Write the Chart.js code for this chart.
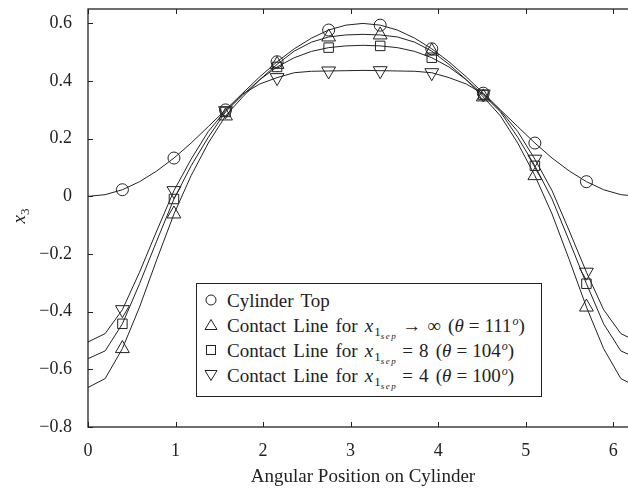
<!DOCTYPE html>
<html>
<head>
<meta charset="utf-8">
<script src="https://cdn.jsdelivr.net/npm/chart.js@4.4.0/dist/chart.umd.min.js"></script>
<style>
  html, body { margin: 0; padding: 0; background: #fff; overflow: hidden; }
  #wrap { position: relative; width: 628px; height: 491px; overflow: hidden; }
  #box { position: absolute; left: 0; top: 0; width: 650px; height: 491px; }
  .serif { font-family: 'Liberation Serif', 'DejaVu Serif', serif; color: #222; }
  #ytitle { position: absolute; left: 6px; top: 205px; font-size: 19px; transform: rotate(-90deg); transform-origin: center; width: 26px; text-align: center; }
  #ytitle sub { font-size: 13px; font-style: normal; vertical-align: 0; position: relative; top: 4px; }
  .legend { position: absolute; left: 196px; top: 283px; width: 346px; height: 114px; border: 1px solid #222; background: #fff; box-sizing: border-box; font-size: 19px; padding-top: 4px; }
  .row { position: relative; height: 25px; line-height: 25px; white-space: nowrap; word-spacing: 2.5px; }
  .row svg { position: absolute; left: 6px; top: 4px; }
  .row .txt { position: absolute; left: 30px; top: 0; }
  .s1 { font-size: 13px; position: relative; top: 4px; margin-left: 1px; }
  .s2 { font-size: 9px; font-style: italic; position: relative; top: 3px; letter-spacing: 1.5px; }
  .op { margin: 0 6px 0 5px; }
  .eq { margin: 0 5px; }
  .sup { font-size: 12px; font-style: italic; position: relative; top: -7px; margin-left: 1px; }
</style>
</head>
<body>
<div id="wrap">
  <div id="box"><canvas id="chart"></canvas></div>
  <div id="ytitle" class="serif"><i>x</i><sub>3</sub></div>
  <div class="legend serif">
    <div class="row">
      <svg width="16" height="16"><circle cx="8" cy="8" r="5" fill="none" stroke="#222" stroke-width="1"/></svg>
      <span class="txt">Cylinder Top</span>
    </div>
    <div class="row">
      <svg width="16" height="16"><polygon points="8,2.5 14,12.5 2,12.5" fill="none" stroke="#222" stroke-width="1"/></svg>
      <span class="txt">Contact Line for <i>x</i><span class="s1">1<span class="s2">sep</span></span><span class="op">→</span>∞ (<i>θ</i><span class="eq">=</span>111<span class="sup">o</span>)</span>
    </div>
    <div class="row">
      <svg width="16" height="16"><rect x="3.5" y="3.5" width="9" height="9" fill="none" stroke="#222" stroke-width="1"/></svg>
      <span class="txt">Contact Line for <i>x</i><span class="s1">1<span class="s2">sep</span></span><span class="op">=</span>8 (<i>θ</i><span class="eq">=</span>104<span class="sup">o</span>)</span>
    </div>
    <div class="row">
      <svg width="16" height="16"><polygon points="2,3.5 14,3.5 8,13.5" fill="none" stroke="#222" stroke-width="1"/></svg>
      <span class="txt">Contact Line for <i>x</i><span class="s1">1<span class="s2">sep</span></span><span class="op">=</span>4 (<i>θ</i><span class="eq">=</span>100<span class="sup">o</span>)</span>
    </div>
  </div>
</div>
<script>
// angular positions (rad), one every pi/16
const angle = [0, 0.196, 0.393, 0.589, 0.785, 0.982, 1.178, 1.374, 1.571, 1.767, 1.963, 2.160, 2.356, 2.553, 2.749, 2.945,
  3.142, 3.338, 3.534, 3.731, 3.927, 4.123, 4.320, 4.516, 4.712, 4.909, 5.105, 5.301, 5.498, 5.694, 5.890, 6.087, 6.283];

const cylinderTop = [0, 0.006, 0.023, 0.051, 0.088, 0.133, 0.185, 0.242, 0.300, 0.358, 0.415, 0.467, 0.512, 0.549, 0.577, 0.594,
  0.600, 0.594, 0.577, 0.549, 0.512, 0.467, 0.415, 0.358, 0.300, 0.242, 0.185, 0.133, 0.088, 0.051, 0.023, 0.006, 0];

const contactInf = [-0.663, -0.632, -0.528, -0.384, -0.220, -0.061, 0.072, 0.185, 0.279, 0.345, 0.405, 0.458, 0.504, 0.535, 0.553, 0.560,
  0.562, 0.560, 0.553, 0.535, 0.504, 0.458, 0.405, 0.345, 0.279, 0.185, 0.072, -0.061, -0.220, -0.384, -0.528, -0.632, -0.663];

const contact8 = [-0.563, -0.536, -0.442, -0.303, -0.155, -0.009, 0.106, 0.205, 0.293, 0.352, 0.405, 0.449, 0.481, 0.503, 0.516, 0.522,
  0.524, 0.522, 0.516, 0.503, 0.481, 0.449, 0.405, 0.352, 0.293, 0.205, 0.106, -0.009, -0.155, -0.303, -0.442, -0.536, -0.563];

const contact4 = [-0.505, -0.476, -0.393, -0.263, -0.120, 0.020, 0.129, 0.225, 0.297, 0.355, 0.390, 0.412, 0.429, 0.434, 0.435, 0.436,
  0.437, 0.436, 0.435, 0.434, 0.429, 0.412, 0.390, 0.355, 0.297, 0.225, 0.129, 0.020, -0.120, -0.263, -0.393, -0.476, -0.505];

const xTicks = [0, 1, 2, 3, 4, 5, 6];
const yTicks = [-0.8, -0.6, -0.4, -0.2, 0, 0.2, 0.4, 0.6];

const ink = '#222';
const tickFont = { family: "'Liberation Serif', 'DejaVu Serif', serif", size: 18 };
const titleFont = { family: "'Liberation Serif', 'DejaVu Serif', serif", size: 19 };

function toPoints(ys) {
  return angle.map((a, i) => ({ x: a, y: ys[i] }));
}

// markers only on every third grid point
function markerSize(r) {
  return ctx => (ctx.dataIndex % 3 === 2 ? r : 0);
}

function series(ys, style, r, rot) {
  return {
    data: toPoints(ys),
    borderColor: ink,
    borderWidth: 1,
    tension: 0,
    pointStyle: style,
    pointRadius: markerSize(r),
    pointRotation: rot || 0,
    pointBorderColor: ink,
    pointBorderWidth: 1,
    pointBackgroundColor: 'rgba(0,0,0,0)',
    pointHoverRadius: 0
  };
}

// frame plus inward tick marks
const framePlugin = {
  id: 'frame',
  afterDraw(chart) {
    const { ctx, chartArea: a, scales } = chart;
    ctx.save();
    ctx.strokeStyle = ink;
    ctx.lineWidth = 1.3;
    ctx.strokeRect(a.left, a.top, a.right - a.left, a.bottom - a.top);
    ctx.lineWidth = 1;
    ctx.beginPath();
    xTicks.forEach(v => {
      const px = Math.round(scales.x.getPixelForValue(v)) + 0.5;
      ctx.moveTo(px, a.bottom); ctx.lineTo(px, a.bottom - 5);
      ctx.moveTo(px, a.top); ctx.lineTo(px, a.top + 5);
    });
    yTicks.forEach(v => {
      const py = Math.round(scales.y.getPixelForValue(v)) + 0.5;
      ctx.moveTo(a.left, py); ctx.lineTo(a.left + 5, py);
      ctx.moveTo(a.right, py); ctx.lineTo(a.right - 5, py);
    });
    ctx.stroke();
    ctx.restore();
  }
};

function fmt(v) {
  if (Math.abs(v) < 1e-9) return '0';
  return (v < 0 ? '\u2212' : '') + Math.abs(v).toFixed(1);
}

new Chart(document.getElementById('chart'), {
  type: 'line',
  data: {
    datasets: [
      series(cylinderTop, 'circle', 6),
      series(contactInf, 'triangle', 8),
      series(contact8, 'rect', 6.7),
      series(contact4, 'triangle', 8, 180)
    ]
  },
  options: {
    responsive: true,
    maintainAspectRatio: false,
    animation: false,
    layout: { padding: { left: 0, right: 12, top: 7, bottom: 0 } },
    plugins: { legend: { display: false }, tooltip: { enabled: false } },
    scales: {
      x: {
        type: 'linear',
        min: 0,
        max: 6.283,
        afterFit(scale) {
          scale.height = 64;
          scale.paddingLeft = 0;
          scale.paddingRight = 0;
        },
        afterBuildTicks(scale) { scale.ticks = xTicks.map(v => ({ value: v })); },
        grid: { display: false, drawTicks: false },
        border: { display: false },
        ticks: { color: ink, font: tickFont, padding: 13, maxRotation: 0, callback: v => String(v) },
        title: { display: true, text: 'Angular Position on Cylinder', color: ink, font: titleFont, padding: { top: 0, bottom: 3 } }
      },
      y: {
        type: 'linear',
        min: -0.8,
        max: 0.65,
        afterFit(scale) {
          scale.width = 88;
          scale.paddingTop = 0;
          scale.paddingBottom = 0;
        },
        afterBuildTicks(scale) { scale.ticks = yTicks.map(v => ({ value: v })); },
        grid: { display: false, drawTicks: false },
        border: { display: false },
        ticks: { color: ink, font: tickFont, padding: 16, callback: v => fmt(v) }
      }
    }
  },
  plugins: [framePlugin]
});
</script>
</body>
</html>
